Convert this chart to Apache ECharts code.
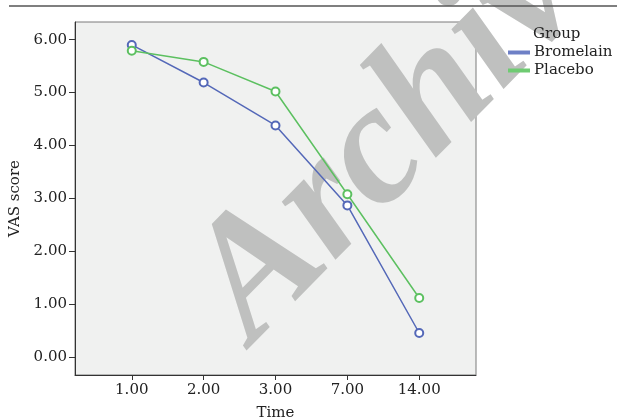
<!DOCTYPE html>
<html>
<head>
<meta charset="utf-8">
<script src="https://cdn.jsdelivr.net/npm/echarts@6/dist/echarts.min.js"></script>
<style>
html,body{margin:0;padding:0;background:#fff;}
#chart{width:617px;height:418px;}
</style>
</head>
<body>
<div id="chart"></div>
<script>
var timeLabels = ['1.00', '2.00', '3.00', '7.00', '14.00'];
var bromelain = [5.90, 5.19, 4.38, 2.87, 0.46];
var placebo = [5.79, 5.58, 5.02, 3.08, 1.12];
var yTicks = [0, 1, 2, 3, 4, 5, 6];
var xPositions = [1, 2, 3, 4, 5];

var FONT = '"DejaVu Serif", "Liberation Serif", serif';

function pairs(vals) {
  return vals.map(function (v, i) { return [xPositions[i], v]; });
}

var WM_ROT = 45.5 * Math.PI / 180;

var chart = echarts.init(document.getElementById('chart'));
chart.setOption({
  animation: false,
  backgroundColor: '#ffffff',
  grid: {
    left: 75, right: 141, top: 22, bottom: 43,
    outerBoundsMode: 'none', containLabel: false,
    show: true, backgroundColor: '#F0F1F0', borderColor: '#7a7a7a', borderWidth: 1
  },
  xAxis: {
    type: 'value',
    min: 0.21, max: 5.79,
    name: 'Time', nameLocation: 'middle', nameGap: 31,
    nameTextStyle: { fontFamily: FONT, fontSize: 15, color: '#222' },
    axisLine: { show: true, onZero: false, lineStyle: { color: '#333', width: 1 } },
    axisTick: { show: true, length: 5, lineStyle: { color: '#333' }, customValues: xPositions },
    axisLabel: {
      customValues: xPositions, margin: 8,
      fontFamily: FONT, fontSize: 15, color: '#222',
      formatter: function (v) { return timeLabels[Math.round(v) - 1]; }
    },
    splitLine: { show: false }
  },
  yAxis: {
    type: 'value',
    min: -1 / 3, max: 19 / 3,
    name: 'VAS score', nameLocation: 'middle', nameGap: 46,
    nameTextStyle: { fontFamily: FONT, fontSize: 15, color: '#222' },
    axisLine: { show: true, onZero: false, lineStyle: { color: '#333', width: 1 } },
    axisTick: { show: true, length: 6, lineStyle: { color: '#333' }, customValues: yTicks },
    axisLabel: {
      customValues: yTicks, margin: 8,
      fontFamily: FONT, fontSize: 15, color: '#222',
      formatter: function (v) { return v.toFixed(2); }
    },
    splitLine: { show: false }
  },
  legend: {
    orient: 'vertical', left: 508, top: 45, itemGap: 3, padding: 0, z: 10,
    icon: 'rect', itemWidth: 20, itemHeight: 2,
    textStyle: { fontFamily: FONT, fontSize: 15, color: '#222' },
    data: ['Bromelain', 'Placebo']
  },
  graphic: [
    {
      type: 'text', z: 1, x: 221, y: 313, rotation: WM_ROT,
      style: {
        text: 'Archive', font: 'italic bold 172px "Liberation Serif", serif',
        fill: '#BFC0BF', textAlign: 'left', textVerticalAlign: 'middle'
      }
    },
    {
      type: 'line', z: 5,
      shape: { x1: 9, y1: 6, x2: 617, y2: 6 },
      style: { stroke: '#555', lineWidth: 1.5 }
    },
    {
      type: 'text', z: 5, x: 533, y: 34,
      style: { text: 'Group', font: '15px ' + FONT, fill: '#222', textAlign: 'left', textVerticalAlign: 'middle' }
    }
  ],
  series: [
    {
      name: 'Bromelain', type: 'line', data: pairs(bromelain),
      symbol: 'emptyCircle', symbolSize: 8,
      lineStyle: { color: '#5468B8', width: 1.5 },
      itemStyle: { color: '#5468B8', borderColor: '#6E80C6', borderWidth: 1.2 },
      z: 3
    },
    {
      name: 'Placebo', type: 'line', data: pairs(placebo),
      symbol: 'emptyCircle', symbolSize: 8,
      lineStyle: { color: '#5CC060', width: 1.5 },
      itemStyle: { color: '#5CC060', borderColor: '#6FCB72', borderWidth: 1.2 },
      z: 3
    }
  ]
});
</script>
</body>
</html>
